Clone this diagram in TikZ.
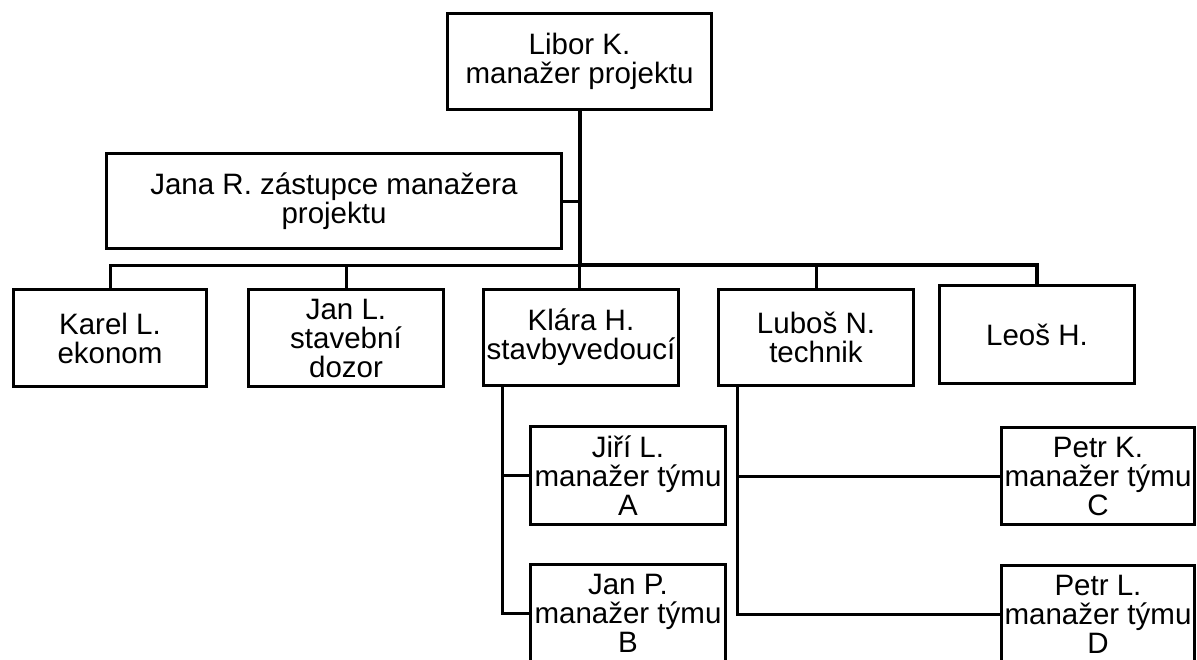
\documentclass[tikz,border=0pt]{standalone}
\usepackage{fontspec}
\setmainfont{Liberation Sans}
\begin{document}
\begin{tikzpicture}[x=1pt,y=-1pt,
  box/.style={draw=black, line width=3pt, fill=white, inner sep=0pt, align=center,
    anchor=north west, font=\fontsize{29.5}{29}\selectfont},
  conn/.style={draw=black, line width=3pt},
  trunk/.style={draw=black, line width=4pt}]
\useasboundingbox[fill=white] (0,0) rectangle (1197,659);
\node[box, minimum width=264pt, minimum height=96pt] (libor) at (446,12) {Libor K.\\manažer projektu};
\node[box, minimum width=455pt, minimum height=95pt] (jana) at (105,152) {Jana R. zástupce manažera\\projektu};
\node[box, minimum width=193pt, minimum height=97pt] (karel) at (12,288) {Karel L.\\ekonom};
\node[box, minimum width=195pt, minimum height=97pt] (janl) at (247,288) {Jan L.\\stavební\\dozor};
\node[box, minimum width=195pt, minimum height=96pt] (klara) at (482,288) {Klára H.\\stavbyvedoucí};
\node[box, minimum width=195pt, minimum height=96pt] (lubos) at (717,288) {Luboš N.\\technik};
\node[box, minimum width=195pt, minimum height=98pt] (leos) at (938,284) {Leoš H.};
\node[box, minimum width=195pt, minimum height=98pt] (jiri) at (529,425) {Jiří L.\\manažer týmu\\A};
\node[box, minimum width=195pt, minimum height=98pt] (janp) at (529,563) {Jan P.\\manažer týmu\\B};
\node[box, minimum width=193pt, minimum height=97pt] (petrk) at (1000,426) {Petr K.\\manažer týmu\\C};
\node[box, minimum width=193pt, minimum height=97pt] (petrl) at (1000,564) {Petr L.\\manažer týmu\\D};
\coordinate (bus) at (libor.south |- 0,265);
% trunk
\draw[trunk] (libor.south) -- (bus);
\draw[conn] (bus) -- (bus |- klara.north);
\draw[conn] (jana.east) -- (jana.east -| bus);
% bus
\draw[conn] (karel.north) |- (bus);
\draw[trunk] (bus) -| (leos.north);
\draw[conn] (janl.north) -- (janl.north |- bus);
\draw[conn] (lubos.north) -- (lubos.north |- bus);
% subordinates
\coordinate (kl) at ([xshift=20pt]klara.south west);
\coordinate (lu) at ([xshift=20pt]lubos.south west);
\draw[conn] (kl) |- (jiri.west);
\draw[conn] (kl) |- (janp.west);
\draw[conn] (lu) |- (petrk.west);
\draw[conn] (lu) |- (petrl.west);
\end{tikzpicture}
\end{document}
